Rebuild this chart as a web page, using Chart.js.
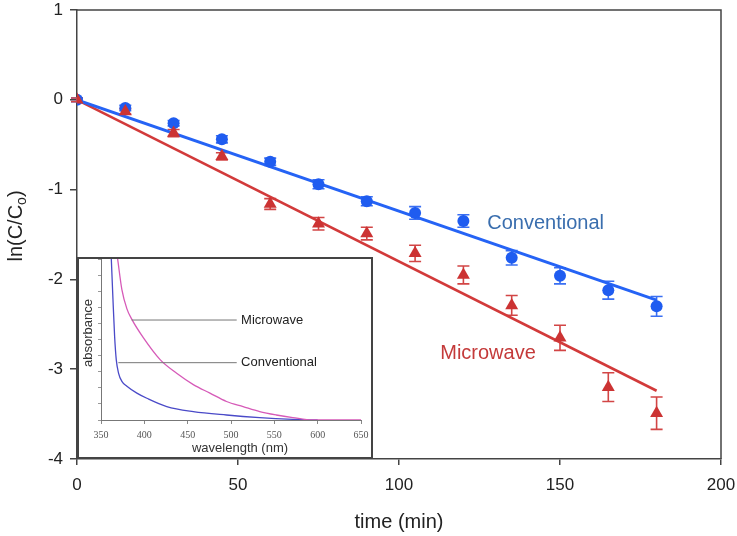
<!DOCTYPE html>
<html><head><meta charset="utf-8">
<script src="https://cdn.jsdelivr.net/npm/chart.js@4/dist/chart.umd.min.js"></script>
<style>
html,body{margin:0;padding:0;background:#fff;}
#wrap{position:relative;width:737px;height:536px;overflow:hidden;}
#main{position:absolute;left:0;top:0;}
#inset{position:absolute;left:77px;top:257px;}
</style></head><body>
<div id="wrap"><canvas id="main" width="737" height="536"></canvas><canvas id="inset" width="296" height="202"></canvas></div>
<script>
// ---- main chart data ----
const time = [0, 15, 30, 45, 60, 75, 90, 105, 120, 135, 150, 165, 180];
const conventional = [0, -0.09, -0.26, -0.44, -0.69, -0.94, -1.13, -1.26, -1.35, -1.76, -1.96, -2.12, -2.30];
const conventionalErr = [0.02, 0.03, 0.03, 0.04, 0.04, 0.05, 0.05, 0.07, 0.07, 0.08, 0.09, 0.10, 0.11];
const microwave = [0, -0.13, -0.37, -0.63, -1.16, -1.38, -1.49, -1.71, -1.95, -2.29, -2.65, -3.20, -3.49];
const microwaveErr = [0.02, 0.03, 0.04, 0.04, 0.06, 0.07, 0.07, 0.09, 0.10, 0.11, 0.14, 0.16, 0.18];
const fitTime = [0, 180];
const conventionalFit = [0, -2.23];
const microwaveFit = [0, -3.24];
const xTicks = [0, 50, 100, 150, 200];
const yTicks = [1, 0, -1, -2, -3, -4];

// ---- inset data ----
const convWavelength = [361.9, 363.8, 365.7, 367.6, 370.3, 374.1, 379.9, 391.4, 402.9, 425.9, 456.5, 494.8, 533.1, 571.4, 594.4, 600];
const convAbsorbance = [1.0, 0.75, 0.52, 0.375, 0.29, 0.24, 0.21, 0.167, 0.135, 0.083, 0.052, 0.031, 0.015, 0.004, 0.0, 0.0];
const microWavelength = [369.2, 374.1, 379.9, 385.6, 399.0, 418.2, 437.3, 456.5, 475.7, 494.8, 514.0, 533.1, 552.3, 571.4, 594.4, 650];
const microAbsorbance = [1.0, 0.81, 0.69, 0.625, 0.51, 0.375, 0.29, 0.22, 0.167, 0.115, 0.083, 0.052, 0.031, 0.015, 0.0, 0.0];
const insetXTicks = [350, 400, 450, 500, 550, 600, 650];

const FONT = "'Liberation Sans', Arial, sans-serif";
const BLUE = '#1f5cf0';
const RED = '#cc3333';

const pts = (xs, ys) => xs.map((x, i) => ({x: x, y: ys[i]}));

const errorBars = {
  id: 'errorBars',
  beforeDatasetsDraw(chart) {
    const ctx = chart.ctx, xs = chart.scales.x, ys = chart.scales.y;
    const sets = [[conventional, conventionalErr, '#3a6ff2'], [microwave, microwaveErr, '#d24545']];
    ctx.save();
    ctx.lineWidth = 1.6;
    sets.forEach(([vals, errs, col]) => {
      ctx.strokeStyle = col;
      vals.forEach((v, i) => {
        const px = xs.getPixelForValue(time[i]);
        const top = ys.getPixelForValue(v + errs[i]);
        const bot = ys.getPixelForValue(v - errs[i]);
        ctx.beginPath();
        ctx.moveTo(px, top); ctx.lineTo(px, bot);
        ctx.moveTo(px - 6, top); ctx.lineTo(px + 6, top);
        ctx.moveTo(px - 6, bot); ctx.lineTo(px + 6, bot);
        ctx.stroke();
      });
    });
    ctx.restore();
  }
};

const mainDecor = {
  id: 'mainDecor',
  afterDraw(chart) {
    const ctx = chart.ctx, a = chart.chartArea, xs = chart.scales.x, ys = chart.scales.y;
    ctx.save();
    // top and right frame
    ctx.strokeStyle = '#444';
    ctx.lineWidth = 1.5;
    ctx.beginPath();
    ctx.moveTo(a.left, a.top); ctx.lineTo(a.right, a.top); ctx.lineTo(a.right, a.bottom);
    ctx.stroke();
    // series labels
    ctx.font = '20px ' + FONT;
    ctx.textBaseline = 'alphabetic';
    ctx.textAlign = 'left';
    ctx.fillStyle = '#3a6eae';
    ctx.fillText('Conventional', xs.getPixelForValue(127.4), ys.getPixelForValue(-1.44));
    ctx.fillStyle = '#c43a3a';
    ctx.fillText('Microwave', xs.getPixelForValue(112.8), ys.getPixelForValue(-2.89));
    // x title
    ctx.fillStyle = '#222';
    ctx.textAlign = 'center';
    ctx.textBaseline = 'middle';
    ctx.font = '20px ' + FONT;
    ctx.fillText('time (min)', (a.left + a.right) / 2, 522);
    // y title with subscript
    ctx.translate(16, 226);
    ctx.rotate(-Math.PI / 2);
    const p1 = 'ln(C/C', sub = 'o', p2 = ')';
    ctx.font = '20px ' + FONT;
    const w1 = ctx.measureText(p1).width, w3 = ctx.measureText(p2).width;
    ctx.font = '14px ' + FONT;
    const w2 = ctx.measureText(sub).width;
    const total = w1 + w2 + w3;
    let x0 = -total / 2;
    ctx.textAlign = 'left';
    ctx.textBaseline = 'middle';
    ctx.font = '20px ' + FONT;
    ctx.fillText(p1, x0, 0);
    ctx.font = '14px ' + FONT;
    ctx.fillText(sub, x0 + w1, 6);
    ctx.font = '20px ' + FONT;
    ctx.fillText(p2, x0 + w1 + w2, 0);
    ctx.restore();
  }
};

new Chart(document.getElementById('main'), {
  type: 'scatter',
  data: {
    datasets: [
      {label: 'Microwave', data: pts(time, microwave), pointStyle: 'triangle', pointRadius: 7.5,
       backgroundColor: RED, borderColor: RED, borderWidth: 0, order: 1},
      {label: 'Conventional', data: pts(time, conventional), pointStyle: 'circle', pointRadius: 6,
       backgroundColor: BLUE, borderColor: BLUE, borderWidth: 0, order: 2},
      {label: 'Conventional fit', type: 'line', data: pts(fitTime, conventionalFit), borderColor: '#2563f5',
       borderWidth: 3, pointRadius: 0, fill: false, order: 3},
      {label: 'Microwave fit', type: 'line', data: pts(fitTime, microwaveFit), borderColor: '#d23a3a',
       borderWidth: 2.6, pointRadius: 0, fill: false, order: 4}
    ]
  },
  options: {
    responsive: false, animation: false, devicePixelRatio: 1,
    layout: {padding: {top: 10, right: 16, left: 0, bottom: 0}},
    plugins: {legend: {display: false}, tooltip: {enabled: false}},
    scales: {
      x: {
        type: 'linear', min: 0, max: 200,
        afterBuildTicks: s => { s.ticks = xTicks.map(v => ({value: v})); },
        afterFit: s => { s.height = 77; s.paddingLeft = 0; s.paddingRight = 0; },
        ticks: {font: {family: FONT, size: 17}, color: '#222', padding: 10, maxRotation: 0},
        grid: {drawOnChartArea: false, drawTicks: true, tickLength: 6, color: '#444', lineWidth: 1.5},
        border: {display: true, color: '#444', width: 1.5}
      },
      y: {
        type: 'linear', min: -4, max: 1,
        afterBuildTicks: s => { s.ticks = yTicks.map(v => ({value: v})); },
        afterFit: s => { s.width = 77; s.paddingTop = 0; s.paddingBottom = 0; },
        ticks: {font: {family: FONT, size: 17}, color: '#222', padding: 7},
        grid: {drawOnChartArea: false, drawTicks: true, tickLength: 7, color: '#444', lineWidth: 1.5},
        border: {display: true, color: '#444', width: 1.5}
      }
    }
  },
  plugins: [errorBars, mainDecor]
});

// ---- inset ----
const insetDecor = {
  id: 'insetDecor',
  beforeDraw(chart) {
    const ctx = chart.ctx;
    ctx.save();
    ctx.fillStyle = '#fff';
    ctx.fillRect(0, 0, chart.width, chart.height);
    ctx.restore();
  },
  afterDraw(chart) {
    const ctx = chart.ctx, a = chart.chartArea, xs = chart.scales.x, ys = chart.scales.y;
    ctx.save();
    // callouts
    ctx.strokeStyle = '#777';
    ctx.lineWidth = 1;
    const xEnd = xs.getPixelForValue(506.6);
    ctx.beginPath();
    ctx.moveTo(xs.getPixelForValue(385.4), ys.getPixelForValue(0.621));
    ctx.lineTo(xEnd, ys.getPixelForValue(0.621));
    ctx.moveTo(xs.getPixelForValue(370.0), ys.getPixelForValue(0.356));
    ctx.lineTo(xEnd, ys.getPixelForValue(0.356));
    ctx.stroke();
    ctx.fillStyle = '#222';
    ctx.font = '13px ' + FONT;
    ctx.textAlign = 'left';
    ctx.textBaseline = 'middle';
    const xt = xs.getPixelForValue(511.6);
    ctx.fillText('Microwave', xt, ys.getPixelForValue(0.621));
    ctx.fillText('Conventional', xt, ys.getPixelForValue(0.356));
    // titles
    ctx.fillStyle = '#333';
    ctx.textAlign = 'center';
    ctx.fillText('wavelength (nm)', 163, 191);
    ctx.save();
    ctx.translate(11, 76);
    ctx.rotate(-Math.PI / 2);
    ctx.fillText('absorbance', 0, 0);
    ctx.restore();
    // frame
    ctx.strokeStyle = '#444';
    ctx.lineWidth = 2;
    ctx.strokeRect(1, 1, chart.width - 2, chart.height - 2);
    ctx.restore();
  }
};

new Chart(document.getElementById('inset'), {
  type: 'line',
  data: {
    datasets: [
      {label: 'Microwave', data: pts(microWavelength, microAbsorbance), borderColor: '#d65ab8',
       borderWidth: 1.3, pointRadius: 0, fill: false, cubicInterpolationMode: 'monotone'},
      {label: 'Conventional', data: pts(convWavelength, convAbsorbance), borderColor: '#4a4ac8',
       borderWidth: 1.3, pointRadius: 0, fill: false, cubicInterpolationMode: 'monotone'}
    ]
  },
  options: {
    responsive: false, animation: false, devicePixelRatio: 1,
    layout: {padding: {top: 2, right: 12, left: 0, bottom: 0}},
    plugins: {legend: {display: false}, tooltip: {enabled: false}},
    scales: {
      x: {
        type: 'linear', min: 350, max: 650,
        afterBuildTicks: s => { s.ticks = insetXTicks.map(v => ({value: v})); },
        afterFit: s => { s.height = 39; s.paddingLeft = 0; s.paddingRight = 0; },
        ticks: {font: {family: "'Liberation Serif', 'DejaVu Serif', serif", size: 10}, color: '#555', padding: 5, maxRotation: 0},
        grid: {drawOnChartArea: false, drawTicks: true, tickLength: 4, color: '#888', lineWidth: 1},
        border: {display: true, color: '#777', width: 1}
      },
      y: {
        type: 'linear', min: 0, max: 1,
        ticks: {display: false, stepSize: 0.1},
        afterFit: s => { s.width = 24; s.paddingTop = 0; s.paddingBottom = 0; },
        grid: {drawOnChartArea: false, drawTicks: true, tickLength: 3, color: '#999', lineWidth: 1},
        border: {display: true, color: '#777', width: 1}
      }
    }
  },
  plugins: [insetDecor]
});
</script>
</body></html>
